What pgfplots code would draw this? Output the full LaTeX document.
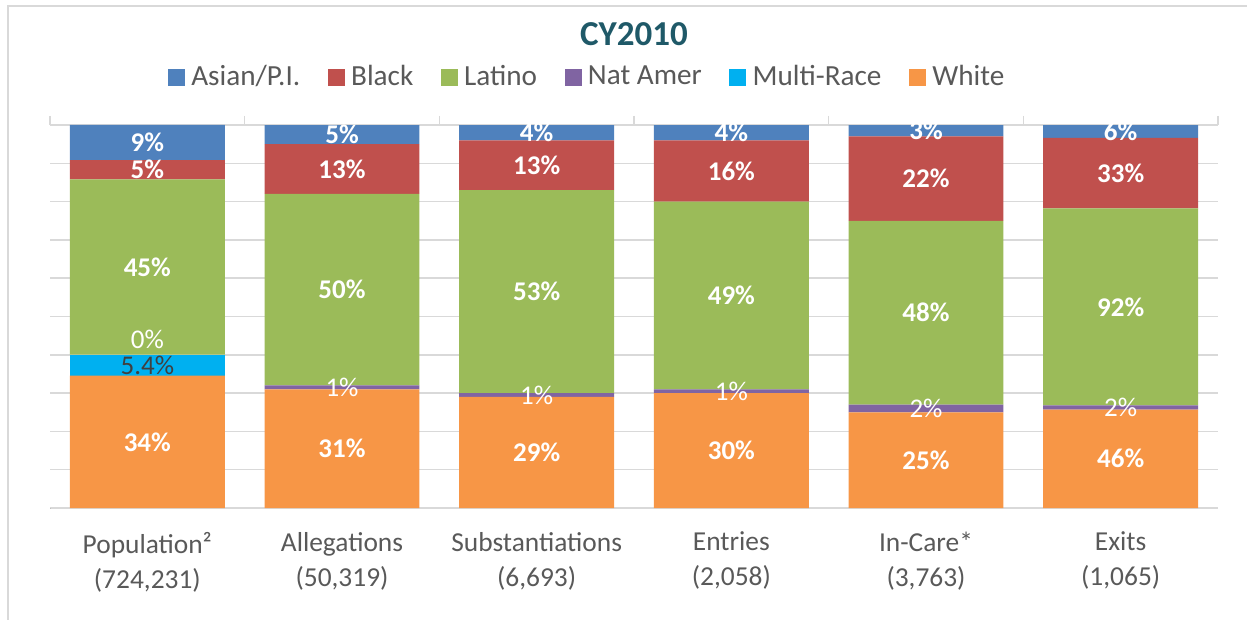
\documentclass[border=0pt]{standalone}
\usepackage{pgfplots}
\usepackage{pgfplotstable}
\pgfplotsset{compat=1.18}
\usepackage{fontspec}
\setmainfont{Carlito}

\definecolor{cAsian}{HTML}{4F81BD}
\definecolor{cBlack}{HTML}{C0504D}
\definecolor{cLatino}{HTML}{9BBB59}
\definecolor{cNat}{HTML}{8064A2}
\definecolor{cMulti}{HTML}{00B0F0}
\definecolor{cWhite}{HTML}{F79646}
\definecolor{titleteal}{RGB}{31,89,104}
\definecolor{txtgray}{HTML}{595959}
\definecolor{gridgray}{HTML}{D9D9D9}

% printed percentages; T = row total (bars are stacked to 100%)
\pgfplotstableread{
x W  M   Ml        N Noff L  B  A T
0 34 5.4 5.4\%     0 15   45 5  9 98.4
1 31 0   {\relax}  1 0    50 13 5 100
2 29 0   {\relax}  1 0    53 13 4 100
3 30 0   {\relax}  1 0    49 16 4 100
4 25 0   {\relax}  2 0    48 22 3 100
5 46 0   {\relax}  2 0    92 33 6 179
}\cydata

\begin{document}
\begin{tikzpicture}
\path[use as bounding box] (0,0) rectangle (623.5pt,-310pt);
\draw[gridgray, line width=1pt] (4pt,-310pt) -- (4pt,-3pt) -- (623.5pt,-3pt);
\begin{axis}[
    at={(25pt,-254pt)}, anchor=south west,
    scale only axis, width=584pt, height=191.5pt,
    ybar stacked, bar width=0.796,
    xmin=-0.5, xmax=5.5, ymin=0, ymax=100,
    enlarge x limits=false,
    clip=false,
    axis line style={draw=none},
    xtick={0,...,5},
    xticklabels={{Population²\\(724,231)},{Allegations\\(50,319)},{Substantiations\\(6,693)},{Entries\\(2,058)},{In-Care*\\(3,763)},{Exits\\(1,065)}},
    xticklabel style={align=center, text=txtgray, font=\fontsize{13.7}{17.5}\selectfont, yshift=-8.5pt},
    xtick pos=right, xticklabel pos=left,
    major tick length=0pt,
    tick style={draw=gridgray, line width=0.75pt},
    extra x ticks={-0.5,0.5,...,5.5},
    extra x tick labels={},
    extra x tick style={major tick length=4.5pt, tick align=outside},
    ytick={0,10,...,100}, yticklabels={},
    ymajorgrids, grid style={draw=gridgray, line width=0.75pt},
    title=CY2010,
    title style={at={(axis description cs:0.5,1.175)}, anchor=base,
        font=\bfseries\fontsize{17.5}{20}\selectfont, text=titleteal},
    legend columns=6, reverse legend, legend cell align=left,
    legend style={at={(axis description cs:0.459,1.1253)}, anchor=center,
        draw=none, fill=none, font=\fontsize{14.6}{17}\selectfont,
        nodes={inner xsep=0pt, inner ysep=1pt, text=txtgray},
        /tikz/every odd column/.append style={column sep=3.2pt},
        /tikz/every even column/.append style={column sep=13.7pt}},
    /pgf/number format/assume math mode=true,
    /pgf/number format/fixed, /pgf/number format/precision=1,
    point meta=explicit,
    nodes near coords={\pgfmathprintnumber{\pgfplotspointmeta}\%},
    nodes near coords align=center,
    every node near coord/.append style={text=white,
        font=\bfseries\fontsize{13.5}{16}\selectfont},
    every axis plot/.append style={draw=none,
        legend image code/.code={\fill[##1] (0pt,-4.25pt) rectangle (8.5pt,4.25pt);}},
]
\addplot[fill=cWhite] table[x=x, y expr=\thisrow{W}/\thisrow{T}*100, meta=W] {\cydata};
\addlegendentry{White}
\addplot[fill=cMulti, point meta=explicit symbolic, nodes near coords={\pgfplotspointmeta},
    every node near coord/.append style={text=black!75, font=\fontsize{13.5}{16}\selectfont}]
    table[x=x, y expr=\thisrow{M}/\thisrow{T}*100, meta=Ml] {\cydata};
\addlegendentry{Multi-Race}
\addplot[fill=cNat, nodes near coords={}]
    table[x=x, y expr=\thisrow{N}/\thisrow{T}*100, meta=N] {\cydata};
\addlegendentry{Nat Amer}
\addplot[fill=cLatino] table[x=x, y expr=\thisrow{L}/\thisrow{T}*100, meta=L] {\cydata};
\addlegendentry{Latino}
\addplot[fill=cBlack] table[x=x, y expr=\thisrow{B}/\thisrow{T}*100, meta=B] {\cydata};
\addlegendentry{Black}
\addplot[fill=cAsian] table[x=x, y expr=\thisrow{A}/\thisrow{T}*100, meta=A] {\cydata};
\addlegendentry{Asian/P.I.}
% Nat Amer labels, drawn last so they sit over the Latino bars
% (align=center puts the label halfway up from 0, hence the factor 2)
\addplot[forget plot, stack plots=false, only marks, mark=*, mark size=0pt,
    mark options={draw=none, fill=none},
    visualization depends on=\thisrow{Noff} \as \noff,
    every node near coord/.append style={font=\fontsize{13.5}{16}\selectfont, yshift=\noff*0.5pt}]
    table[x=x, y expr=2*(\thisrow{W}+\thisrow{M}+\thisrow{N}/2)/\thisrow{T}*100, meta=N] {\cydata};
\end{axis}
\end{tikzpicture}
\end{document}
